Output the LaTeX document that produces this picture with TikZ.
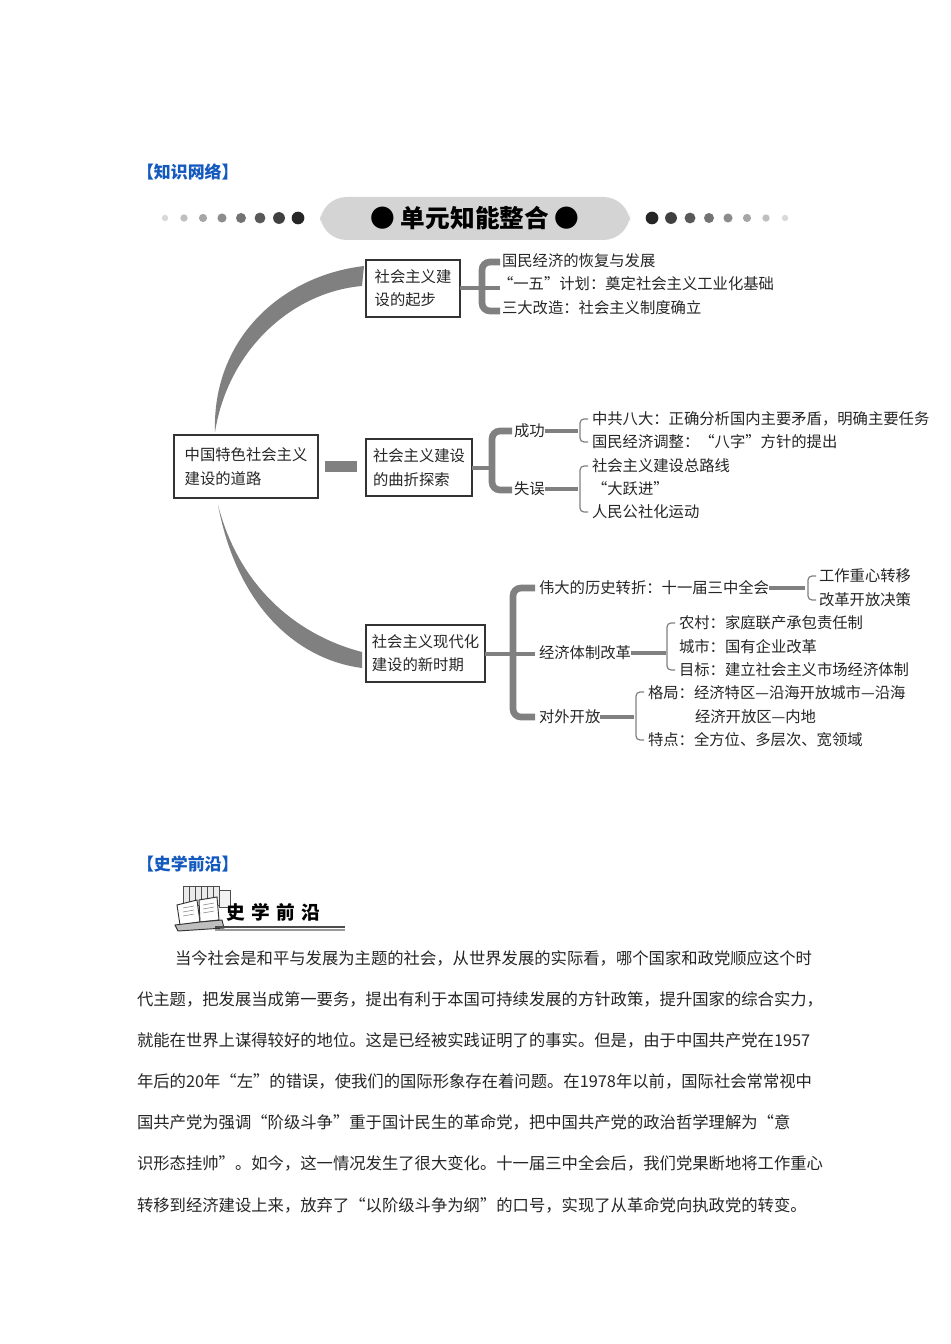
\documentclass[tikz,border=0pt]{standalone}
\usepackage{fontspec}
\setmainfont{Noto Sans CJK SC}
\begin{document}
\begin{tikzpicture}[x=0.75pt,y=-0.75pt,
  every node/.style={inner sep=0pt,outer sep=0pt},
  t/.style={anchor=west,font=\fontsize{11.5}{14}\selectfont,text=black!85},
  bx/.style={draw=black!80,line width=1.2pt,fill=white,align=left,inner sep=0pt,font=\fontsize{11.5}{17.5}\selectfont,text=black!85},
  br/.style={draw=black!50,line width=5pt,rounded corners=6pt},
  th/.style={draw=black!50,line width=0.9pt,rounded corners=3pt},
  tk/.style={draw=black!50,line width=3pt},
  hd/.style={anchor=west,font=\fontsize{12.7}{14}\selectfont\bfseries,text={rgb,255:red,20;green,90;blue,190}},
  para/.style={anchor=west,font=\fontsize{12.25}{14}\selectfont,text=black!85}]
\useasboundingbox[fill=white] (0,0) rectangle (950,1344);
\node[hd] (h1) at (137,172) {【知识网络】};
% banner
\fill[black!17,rounded corners=20pt] (320,197) rectangle (630,240);
\node[font=\fontsize{18.5}{20}\selectfont\bfseries] (ban) at (475,218) {● 单元知能整合 ●};
\foreach \i in {0,...,7}{
  \pgfmathsetmacro{\g}{15+10*\i}
  \pgfmathsetmacro{\r}{3.2+0.45*\i}
  \fill[black!\g] (165+19*\i,218) circle[radius=\r];
  \fill[black!\g] (785-19*\i,218) circle[radius=\r];
}
% crescents
\fill[black!50] (215,432) .. controls (212,340) and (280,276) .. (364,266) -- (362,286) .. controls (292,292) and (228,350) .. (215,432) -- cycle;
\fill[black!50] (218,505) .. controls (238,610) and (300,660) .. (362,668) -- (362,652) .. controls (300,636) and (240,590) .. (218,505) -- cycle;
% boxes
\node[bx,minimum width=70.5pt,minimum height=42.75pt] (b1) at (413,288.5) {社会主义建\\设的起步};
\node[bx,minimum width=108pt,minimum height=47.25pt] (b0) at (246,466.5) {中国特色社会主义\\建设的道路};
\node[bx,minimum width=79.5pt,minimum height=42.75pt] (b2) at (419,467.5) {社会主义建设\\的曲折探索};
\node[bx,minimum width=89.25pt,minimum height=42.75pt] (b3) at (425.5,653.5) {社会主义现代化\\建设的新时期};
\draw[draw=black!50,line width=8pt] (b0.east) ++(7,0) -- ++(32,0);
% top group
\node[t] (a1) at (502,261) {国民经济的恢复与发展};
\node[t] (a2) at (498,284) {“一五”计划：奠定社会主义工业化基础};
\node[t] (a3) at (502,308) {三大改造：社会主义制度确立};
\draw[br] (500,262) -- (482,262) -- (482,311) -- (500,311);
\draw[tk] (b1.east) -- ++(40,0);
% middle group
\node[t] (s1) at (514,431) {成功};
\node[t] (s2) at (514,489) {失误};
\draw[br] (512,431) -- (492,431) -- (492,490) -- (512,490);
\draw[tk] (b2.east) -- ++(20,0);
\draw[tk] (s1.east) -- (578,431);
\draw[tk] (s2.east) -- (578,489);
\draw[th] (588,419) -- (580,419) -- (580,442) -- (588,442);
\draw[th] (588,466) -- (580,466) -- (580,512) -- (588,512);
\node[t] (c1) at (592,419) {中共八大：正确分析国内主要矛盾，明确主要任务};
\node[t] (c2) at (592,442) {国民经济调整：“八字”方针的提出};
\node[t] (c3) at (592,466) {社会主义建设总路线};
\node[t] (c4) at (592,489) {“大跃进”};
\node[t] (c5) at (592,512) {人民公社化运动};
% bottom group
\node[t] (e1) at (539,588) {伟大的历史转折：十一届三中全会};
\node[t] (e2) at (539,653) {经济体制改革};
\node[t] (e3) at (539,717) {对外开放};
\draw[br] (535,588) -- (513,588) -- (513,717) -- (535,717);
\draw[tk] (b3.east) -- (535,653.5);
\draw[tk] (e1.east) -- (805,588);
\draw[th] (816,576) -- (808,576) -- (808,600) -- (816,600);
\node[t] (f1) at (819,576) {工作重心转移};
\node[t] (f2) at (819,600) {改革开放决策};
\draw[tk] (e2.east) -- (666,653);
\draw[th] (675,623) -- (667,623) -- (667,670) -- (675,670);
\node[t] (g1) at (679,623) {农村：家庭联产承包责任制};
\node[t] (g2) at (679,647) {城市：国有企业改革};
\node[t] (g3) at (679,670) {目标：建立社会主义市场经济体制};
\draw[tk] (e3.east) -- (634,717);
\draw[th] (644,692) -- (636,692) -- (636,740) -- (644,740);
\node[t] (k1) at (648,693) {格局：经济特区—沿海开放城市—沿海};
\node[t] (k2) at (695,717) {经济开放区—内地};
\node[t] (k3) at (648,740) {特点：全方位、多层次、宽领域};
% section 2
\node[hd] (h2) at (137,864) {【史学前沿】};
% book icon
\foreach \i in {0,...,5}{\draw[black!70,fill=black!8,line width=0.6pt] (183+6*\i,886) rectangle (189+6*\i,905);}
\draw[black!70,fill=black!5,line width=0.6pt] (219,890) rectangle (230,907);
\draw[black!80,fill=white,line width=0.7pt] (177,905) -- (197,900) -- (200,922) -- (180,925) -- cycle;
\draw[black!80,fill=white,line width=0.7pt] (200,922) -- (199,900) -- (217,897) -- (219,920) -- cycle;
\draw[black!80,fill=black!25,line width=0.7pt] (175,925) -- (200,922) -- (222,920) -- (224,928) -- (178,931) -- cycle;
\foreach \y in {908,912,916}{\draw[black!50,line width=0.4pt] (183,\y) -- (194,\y-2); \draw[black!50,line width=0.4pt] (203,\y-3) -- (214,\y-5);}
\node[anchor=west,font=\fontsize{14}{16}\selectfont\bfseries] (logo) at (226,912) {史\hspace{5pt}学\hspace{5pt}前\hspace{5pt}沿};
\draw[black!70,line width=0.8pt] (215,927) -- (345,927);
\draw[black!40,line width=1.5pt] (215,930) -- (345,930);
\node[para] (p1) at (175,958) {当今社会是和平与发展为主题的社会，从世界发展的实际看，哪个国家和政党顺应这个时};
\node[para] (p2) at (137,999) {代主题，把发展当成第一要务，提出有利于本国可持续发展的方针政策，提升国家的综合实力，};
\node[para] (p3) at (137,1040) {就能在世界上谋得较好的地位。这是已经被实践证明了的事实。但是，由于中国共产党在1957};
\node[para] (p4) at (137,1081) {年后的20年“左”的错误，使我们的国际形象存在着问题。在1978年以前，国际社会常常视中};
\node[para] (p5) at (137,1122) {国共产党为强调“阶级斗争”重于国计民生的革命党，把中国共产党的政治哲学理解为“意};
\node[para] (p6) at (137,1163) {识形态挂帅”。如今，这一情况发生了很大变化。十一届三中全会后，我们党果断地将工作重心};
\node[para] (p7) at (137,1205) {转移到经济建设上来，放弃了“以阶级斗争为纲”的口号，实现了从革命党向执政党的转变。};
\end{tikzpicture}
\end{document}
